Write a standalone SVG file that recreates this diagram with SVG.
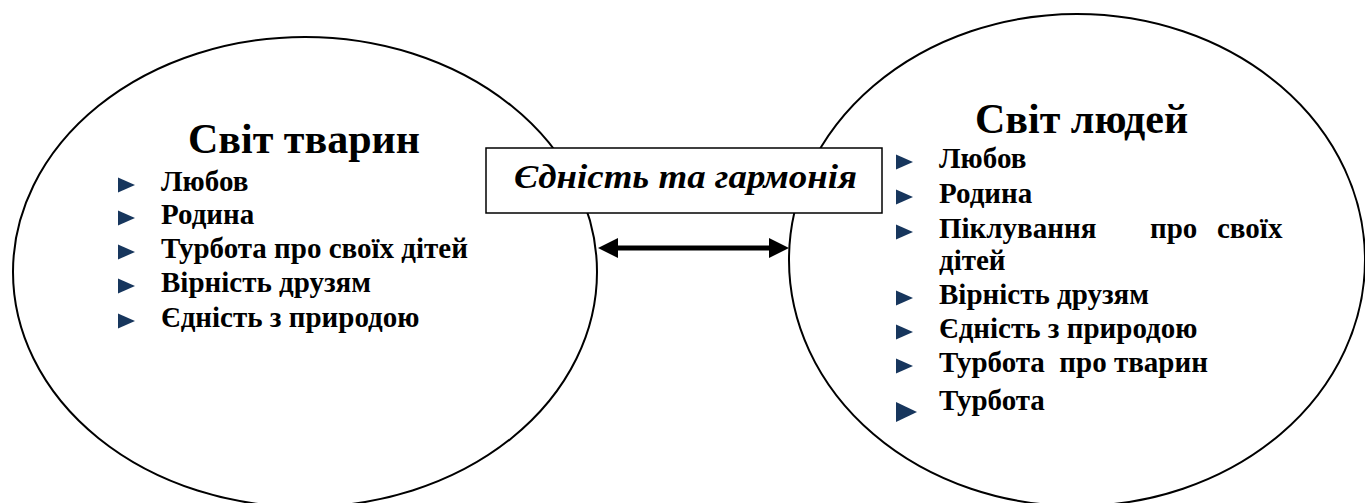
<svg xmlns="http://www.w3.org/2000/svg" width="1365" height="503" viewBox="0 0 1365 503">
<style>
.ell{fill:#fff;stroke:#000;stroke-width:2}
.title{font-family:'Liberation Serif','DejaVu Serif',serif;font-weight:700;font-size:42px;fill:#000}
.item{font-family:'Liberation Serif','DejaVu Serif',serif;font-weight:700;font-size:29px;fill:#000}
.box{fill:#fff;stroke:#000;stroke-width:1.5}
.boxt{font-family:'Liberation Serif','DejaVu Serif',serif;font-weight:700;font-style:italic;font-size:34px;fill:#000}
.bul{fill:#17365D}
.conn{stroke:#000;stroke-width:5;fill:none}
</style>
<defs>
<marker id="ah" viewBox="0 0 10 10" refX="5" refY="5" markerWidth="4" markerHeight="4" orient="auto-start-reverse" markerUnits="strokeWidth">
<path d="M0,0 L10,5 L0,10 Z" fill="#000"/>
</marker>
</defs>
<rect width="1365" height="503" fill="#fff"/>
<g id="animals">
<ellipse class="ell" cx="305" cy="272" rx="292" ry="235"/>
<text class="title" x="188" y="153">Світ тварин</text>
<path class="bul" d="M118,177.5 L135,185 L118,192.5 Z"/>
<text class="item" x="161" y="191">Любов</text>
<path class="bul" d="M118,210.5 L135,218 L118,225.5 Z"/>
<text class="item" x="161" y="224">Родина</text>
<path class="bul" d="M118,244.5 L135,252 L118,259.5 Z"/>
<text class="item" x="161" y="258">Турбота про своїх дітей</text>
<path class="bul" d="M118,278.5 L135,286 L118,293.5 Z"/>
<text class="item" x="161" y="292">Вірність друзям</text>
<path class="bul" d="M118,313.5 L135,321 L118,328.5 Z"/>
<text class="item" x="161" y="327">Єдність з природою</text>
</g>
<g id="people">
<ellipse class="ell" cx="1077" cy="260" rx="288" ry="246"/>
<text class="title" x="975" y="133">Світ людей</text>
<path class="bul" d="M896,154.5 L913,162 L896,169.5 Z"/>
<text class="item" x="939" y="168">Любов</text>
<path class="bul" d="M896,189.5 L913,197 L896,204.5 Z"/>
<text class="item" x="939" y="203">Родина</text>
<path class="bul" d="M896,224.5 L913,232 L896,239.5 Z"/>
<text class="item" x="939" y="238">Піклування</text>
<text class="item" x="1150" y="238">про</text>
<text class="item" x="1217" y="238">своїх</text>
<text class="item" x="939" y="270">дітей</text>
<path class="bul" d="M896,290.5 L913,298 L896,305.5 Z"/>
<text class="item" x="939" y="304">Вірність друзям</text>
<path class="bul" d="M896,324.5 L913,332 L896,339.5 Z"/>
<text class="item" x="939" y="338">Єдність з природою</text>
<path class="bul" d="M896,358.5 L913,366 L896,373.5 Z"/>
<text class="item" x="939" y="372" xml:space="preserve" style="white-space:pre">Турбота  про тварин</text>
<path class="bul" d="M896,402 L917,412 L896,422 Z"/>
<text class="item" x="939" y="410">Турбота</text>
</g>
<g id="harmony">
<rect class="box" x="486" y="148" width="396" height="65"/>
<text class="boxt" x="514" y="188" textLength="343" lengthAdjust="spacingAndGlyphs">Єдність та гармонія</text>
</g>
<g id="connectors">
<line class="conn" x1="608" y1="248" x2="779" y2="248" marker-start="url(#ah)" marker-end="url(#ah)"/>
</g>
</svg>
